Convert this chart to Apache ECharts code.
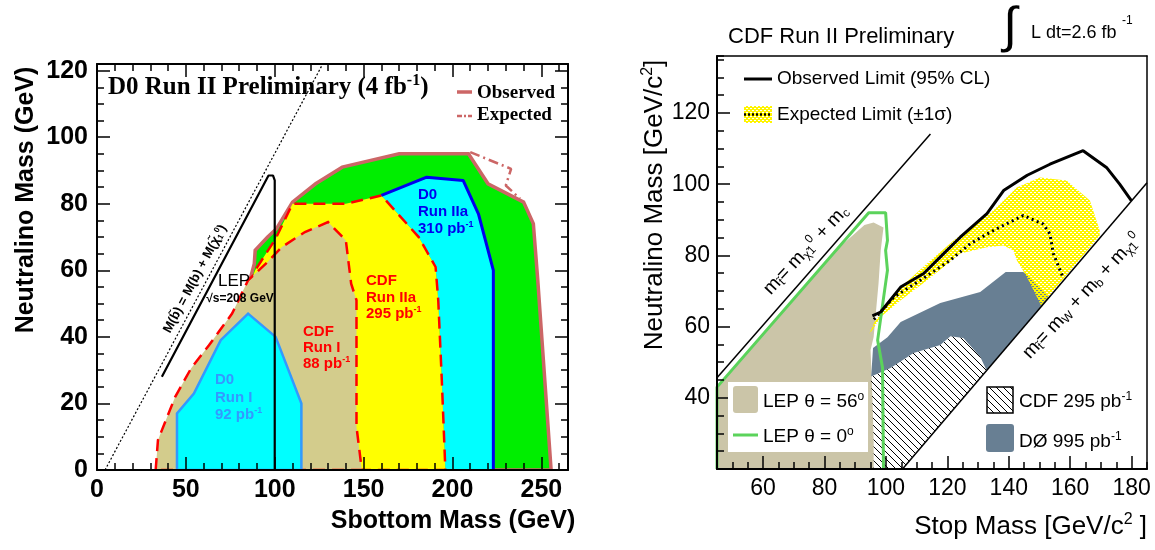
<!DOCTYPE html>
<html>
<head>
<meta charset="utf-8">
<script src="https://cdn.jsdelivr.net/npm/echarts@6/dist/echarts.min.js"></script>
<style>
  html, body { margin: 0; padding: 0; background: #fff; }
  #chart { width: 1155px; height: 550px; }
</style>
</head>
<body>
<div id="chart"></div>
<script>
// ---------- left panel: D0 sbottom exclusion (GeV) ----------
const d0Observed = [[40,0],[80,45],[88.5,62],[89,66],[96,70],[101,72.5],[110,80.5],[123,86],[138,91],[170,95],[209,95],[220,86],[240,80.5],[245.5,74],[248,57],[255.5,0]];
const d0Expected = [[210,95.5],[233,90.5],[230,85.5],[238,81.5]];
const cdfRun2a = [[60,0],[80,48],[86,56],[89,60],[100.5,69.5],[110,80],[140,80],[160,82.5],[181,70],[190.5,61],[192,51],[194,27],[196,0]];
const d0Run2a = [[160,82.5],[185.5,88],[206,87],[214.6,77],[223,60],[223,0],[196,0],[194,27],[192,51],[190.5,61],[181,70]];
const d0Run2aEdge = [[160,82.5],[185.5,88],[206,87],[214.6,77],[223,60],[223,0]];
const cdfRun1 = [[33,0],[34.3,9],[44,22],[53,30.6],[63,37.5],[76,47],[85,57],[95,62],[104,67],[117,71.5],[130,74.5],[140,69],[143,56],[146,51],[146,13],[149,0]];
const d0Run1 = [[45,0],[45,17],[54.5,23],[69.6,39],[85,47],[100.5,40],[115,20],[115,0]];
const lepSbottom = [[36.5,28],[96.5,88.5],[99,88.5],[100,87],[100,0]];
const sbKinematic = [[4.5,0],[127,122]];

// ---------- right panel: CDF stop exclusion (GeV/c2) ----------
const lep56 = [[45,20],[45,43],[85.3,82.6],[93,88.5],[96,89.2],[99.2,87.8],[98.3,81.4],[97.6,72.2],[96,57.1],[95,53.4],[95.6,40],[96,27.7],[96,20]];
const lep0 = [[45,20],[45,43],[94.4,92],[99.9,92],[100.5,84.2],[99.9,81.4],[100.5,75.8],[99.9,72.2],[97.3,56.2],[98.9,48.4],[99.2,20]];
const cdf295 = [[95,45.9],[101.5,48.4],[109,52.6],[117.7,54.8],[121,57.3],[125.2,56.8],[130.7,51.5],[132.8,47.7],[105.4,20],[96,20],[96,28],[95.5,40]];
const d0995 = [[95.2,46],[101.5,48.4],[109,52.6],[117.7,54.8],[121,57.3],[125.2,56.8],[130.7,51.5],[132.8,47.7],[153,68.2],[147,74],[144.7,75.3],[139,75.3],[130.7,69.7],[117.7,66.6],[104.8,61.3],[100.5,57],[95.8,54]];
const expBand = [[94.6,58],[96.1,61],[102.6,69.3],[113.4,77.7],[122,84.2],[135,92.6],[142.6,99.1],[150.2,101.9],[158.8,101],[166.4,95.4],[169.6,87],[169.6,85.5],[150.5,66],[145.9,73.9],[142.6,78.6],[141.5,81.4],[138.3,82.8],[132.9,82.3],[124.2,80.5],[113.4,73],[104.8,67.4],[98.3,62.7],[95.5,59]];
const obsLimit = [[95.6,63],[98.3,64.1],[104.8,71.1],[112.3,74.9],[118.8,80.5],[124.2,85.1],[132.9,91.7],[138.3,98.2],[146,102.5],[153.4,105.6],[164.2,109.4],[171.8,104.7],[176.1,100],[179.9,95.4]];
const expLimit = [[96.1,62],[102.6,68.3],[111.2,73],[120.9,78.6],[127.5,83.3],[135,87],[144.7,91.2],[151.2,88.8],[153.4,86],[154.5,80.5],[157.8,73.5]];
const charmLine = [[45,45.6],[114.5,114.1]];
const wbLine = [[105.4,20],[185,100.4]];
const stopTicks = [60, 80, 100, 120, 140, 160, 180];

const SANS = "'Liberation Sans', Arial, sans-serif";
const SERIF = "'Liberation Serif', 'Times New Roman', serif";

// fill patterns
function hatchPattern() {
  const c = document.createElement('canvas');
  c.width = 7; c.height = 7;
  const g = c.getContext('2d');
  g.strokeStyle = '#000'; g.lineWidth = 1;
  g.beginPath();
  g.moveTo(-2, -2); g.lineTo(9, 9);
  g.moveTo(-2, 5); g.lineTo(2, 9);
  g.moveTo(5, -2); g.lineTo(9, 2);
  g.stroke();
  return { image: c, repeat: 'repeat' };
}
function dotPattern() {
  const c = document.createElement('canvas');
  c.width = 4; c.height = 4;
  const g = c.getContext('2d');
  const img = g.createImageData(4, 4);
  for (let y = 0; y < 4; y++) for (let x = 0; x < 4; x++) {
    const on = ((x + y) % 4 < 2) || ((x - y + 8) % 4 < 2);
    const i = (y * 4 + x) * 4;
    img.data[i] = 255; img.data[i + 1] = 245; img.data[i + 2] = 0; img.data[i + 3] = on ? 255 : 0;
  }
  g.putImageData(img, 0, 0);
  return { image: c, repeat: 'repeat' };
}
const hatch = hatchPattern();
const yellowDots = dotPattern();

// axis helpers
const black = { color: '#000', width: 2 };
function axis(o) {
  return Object.assign({
    type: 'value', z: 10,
    axisLine: { show: false, onZero: false, lineStyle: black },
    axisTick: { show: true, inside: true, length: 13, lineStyle: { color: '#000', width: 1.5 } },
    axisLabel: { show: false },
    splitLine: { show: false }
  }, o);
}
function major(o, label) {
  const a = axis(o);
  a.axisLine = { show: true, onZero: false, lineStyle: black };
  if (label) a.axisLabel = label;
  return a;
}
function minor(o) {
  const a = axis(o);
  a.axisTick = { show: true, inside: true, length: 7, lineStyle: { color: '#000', width: 1.5 } };
  return a;
}
const leftLabel = { show: true, fontSize: 25, fontWeight: 'bold', fontFamily: SANS, color: '#000', showMaxLabel: false };
const rightLabel = { show: true, fontSize: 23, fontFamily: SANS, color: '#000' };

const xAxis = [
  major({ gridIndex: 0, position: 'bottom', min: 0, max: 265, interval: 50 }, Object.assign({ margin: 8 }, leftLabel)),   // 0
  minor({ gridIndex: 0, position: 'bottom', min: 0, max: 265, interval: 10 }),                                          // 1
  major({ gridIndex: 0, position: 'top', min: 0, max: 265, interval: 50 }),                                             // 2
  minor({ gridIndex: 0, position: 'top', min: 0, max: 265, interval: 10 }),                                             // 3
  major({ gridIndex: 1, position: 'bottom', min: 45, max: 185,
          axisTick: { show: true, inside: true, length: 13, customValues: stopTicks, lineStyle: { color: '#000', width: 1.5 } } },
        Object.assign({ margin: 8, customValues: stopTicks }, rightLabel)),                                             // 4
  minor({ gridIndex: 1, position: 'bottom', min: 45, max: 185, interval: 5 }),                                         // 5
  Object.assign(major({ gridIndex: 1, position: 'top', min: 45, max: 185 }), { axisTick: { show: false }, axisLine: { show: true, onZero: false, lineStyle: { color: '#000', width: 1.5 } } }) // 6
];
const yAxis = [
  major({ gridIndex: 0, position: 'left', min: 0, max: 122, interval: 20 }, Object.assign({ margin: 9 }, leftLabel)),     // 0
  minor({ gridIndex: 0, position: 'left', min: 0, max: 122, interval: 5 }),                                             // 1
  major({ gridIndex: 0, position: 'right', min: 0, max: 122, interval: 20 }),                                           // 2
  minor({ gridIndex: 0, position: 'right', min: 0, max: 122, interval: 5 }),                                            // 3
  major({ gridIndex: 1, position: 'left', min: 20, max: 136, interval: 20 },
        Object.assign({ margin: 7, showMinLabel: false, showMaxLabel: false }, rightLabel)),                            // 4
  minor({ gridIndex: 1, position: 'left', min: 20, max: 136, interval: 5 }),                                            // 5
  Object.assign(major({ gridIndex: 1, position: 'right', min: 20, max: 136 }), { axisTick: { show: false }, axisLine: { show: true, onZero: false, lineStyle: { color: '#000', width: 1.5 } } }) // 6
];

// series helpers
function area(pts, ax, style) {
  return {
    type: 'custom', xAxisIndex: ax, yAxisIndex: ax, data: pts, silent: true, clip: true,
    renderItem: function (params, api) {
      if (params.dataIndex !== 0) return null;
      return { type: 'polygon', shape: { points: pts.map(function (p) { return api.coord(p); }) }, style: style };
    }
  };
}
function line(pts, ax, color, width, dash) {
  return {
    type: 'line', xAxisIndex: ax, yAxisIndex: ax, data: pts, symbol: 'none', silent: true, clip: true,
    lineStyle: { color: color, width: width, type: dash || 'solid' }, z: 3
  };
}

const series = [
  // left
  area(d0Observed, 0, { fill: '#00ee00', stroke: '#cc6666', lineWidth: 3.5 }),
  area(d0Run2a, 0, { fill: '#00ffff' }),
  line(d0Run2aEdge, 0, '#0000ee', 3),
  area(cdfRun2a, 0, { fill: '#ffff00', stroke: '#ff0000', lineWidth: 2.5, lineDash: [12, 7] }),
  area(cdfRun1, 0, { fill: '#d3cc8c', stroke: '#ff0000', lineWidth: 2.5, lineDash: [12, 7] }),
  area(d0Run1, 0, { fill: '#00ffff', stroke: '#3399ff', lineWidth: 2.5 }),
  line(d0Expected, 0, '#cc6666', 2.5, [10, 4, 2, 4]),
  line(lepSbottom, 0, '#000', 2.2),
  line(sbKinematic, 0, '#000', 1.2, [2, 2]),
  // right
  area(lep56, 4, { fill: '#cbc5a8' }),
  area(d0995, 4, { fill: '#687f93' }),
  area(cdf295, 4, { fill: hatch }),
  area(expBand, 4, { fill: yellowDots }),
  line(lep0, 4, '#5bd35b', 3),
  line(charmLine, 4, '#000', 1.5),
  line(wbLine, 4, '#000', 1.5),
  line(obsLimit, 4, '#000', 3),
  line(expLimit, 4, '#000', 3, [2, 3.5])
];

// text helpers
function T(text, x, y, size, o) {
  o = o || {};
  const w = o.weight || 'normal', fam = o.family || SANS, col = o.color || '#000';
  const small = Math.round(size * 0.62);
  return {
    type: 'text', x: x, y: y, z: 40, silent: true, rotation: (o.rot || 0) * Math.PI / 180,
    style: {
      text: text, font: w + ' ' + size + 'px ' + fam, fill: col,
      align: o.align || 'left', verticalAlign: 'middle',
      rich: {
        p: { font: w + ' ' + small + 'px ' + fam, fill: col, padding: [0, 0, Math.round(size * 0.55), 0] },
        s: { font: w + ' ' + small + 'px ' + fam, fill: col, padding: [Math.round(size * 0.45), 0, 0, 0] }
      }
    }
  };
}
function L(x1, y1, x2, y2, color, width, dash) {
  return { type: 'line', z: 40, silent: true, shape: { x1: x1, y1: y1, x2: x2, y2: y2 },
    style: { stroke: color, lineWidth: width, lineDash: dash || null } };
}
function R(x, y, w, h, style, r) {
  return { type: 'rect', z: 35, silent: true, shape: { x: x, y: y, width: w, height: h, r: r || 0 }, style: style };
}

const labelBold = { weight: 'bold' };
const graphic = [
  // left panel
  T('D0 Run II Preliminary (4 fb{p|-1})', 108, 88, 25, { weight: 'bold', family: SERIF }),
  L(457, 92, 472, 92, '#cc6666', 3.5),
  L(457, 116, 472, 116, '#cc6666', 2.5, [5, 2, 2, 2]),
  T('Observed', 477, 93, 19, { weight: 'bold', family: SERIF }),
  T('Expected', 477, 115, 19, { weight: 'bold', family: SERIF }),
  T('Neutralino Mass (GeV)', 26, 200, 25, { weight: 'bold', rot: 90, align: 'center' }),
  T('Sbottom Mass (GeV)', 453, 521, 25, { weight: 'bold', align: 'center' }),
  T('LEP', 234, 281, 17, { align: 'center' }),
  T('\u221As=208 GeV', 240, 299, 12, { align: 'center', weight: 'bold' }),
  T('M(b\u0303) = M(b) + M(\u03C7\u0303{s|1}{p|0})', 195, 279, 13, { rot: 62, align: 'center', weight: 'bold' }),
  T('D0', 418, 195, 15, { weight: 'bold', color: '#0000ee' }),
  T('Run IIa', 418, 212, 15, { weight: 'bold', color: '#0000ee' }),
  T('310 pb{p|-1}', 418, 229, 15, { weight: 'bold', color: '#0000ee' }),
  T('CDF', 366, 281, 15, { weight: 'bold', color: '#ff0000' }),
  T('Run IIa', 366, 298, 15, { weight: 'bold', color: '#ff0000' }),
  T('295 pb{p|-1}', 366, 314, 15, { weight: 'bold', color: '#ff0000' }),
  T('CDF', 303, 332, 15, { weight: 'bold', color: '#ff0000' }),
  T('Run I', 303, 348, 15, { weight: 'bold', color: '#ff0000' }),
  T('88 pb{p|-1}', 303, 364, 15, { weight: 'bold', color: '#ff0000' }),
  T('D0', 215, 380, 15, { weight: 'bold', color: '#3399ff' }),
  T('Run I', 215, 398, 15, { weight: 'bold', color: '#3399ff' }),
  T('92 pb{p|-1}', 215, 415, 15, { weight: 'bold', color: '#3399ff' }),
  // right panel
  T('CDF Run II Preliminary', 728, 37, 22),
  T('\u222B', 1010, 28, 50, { align: 'center' }),
  T('L dt=2.6 fb', 1031, 33, 18),
  T('-1', 1122, 21, 12),
  T('Neutralino Mass [GeV/c{p|2}]', 655, 205, 26, { rot: 90, align: 'center' }),
  T('Stop Mass [GeV/c{p|2} ]', 1147, 527, 26, { align: 'right' }),
  L(744, 79, 772, 79, '#000', 3),
  T('Observed Limit (95% CL)', 777, 79, 19),
  R(744, 106, 28, 17, { fill: yellowDots }),
  L(744, 114.5, 772, 114.5, '#000', 2.5, [2, 2]),
  T('Expected Limit (\u00B11\u03C3)', 777, 115, 19),
  R(728, 382, 140, 70, { fill: '#fff' }),
  R(733, 386, 25, 27, { fill: '#cbc5a8' }, 3),
  T('LEP \u03B8 = 56{p|o}', 763, 402, 19),
  L(733, 435, 758, 435, '#5bd35b', 3),
  T('LEP \u03B8 = 0{p|o}', 763, 437, 19),
  R(987, 387, 26, 26, { fill: hatch, stroke: '#000', lineWidth: 1.5 }),
  T('CDF 295 pb{p|-1}', 1019, 402, 19),
  R(986, 424, 28, 28, { fill: '#687f93' }, 3),
  T('D\u00D8 995 pb{p|-1}', 1019, 442, 19),
  T('m{s|t\u0303}= m{s|\u03C7\u03031}{p|0} + m{s|c}', 806, 250, 19, { rot: 47, align: 'center' }),
  T('m{s|t\u0303}= m{s|W} + m{s|b} + m{s|\u03C7\u03031}{p|0}', 1082, 296, 19, { rot: 47, align: 'center' })
];

const chart = echarts.init(document.getElementById('chart'), null, { renderer: 'canvas' });
chart.setOption({
  backgroundColor: '#fff',
  animation: false,
  grid: [
    { left: 97, top: 64, width: 471, height: 406 },
    { left: 717, top: 56, width: 430, height: 413 }
  ],
  xAxis: xAxis,
  yAxis: yAxis,
  series: series,
  graphic: graphic
});
</script>
</body>
</html>
